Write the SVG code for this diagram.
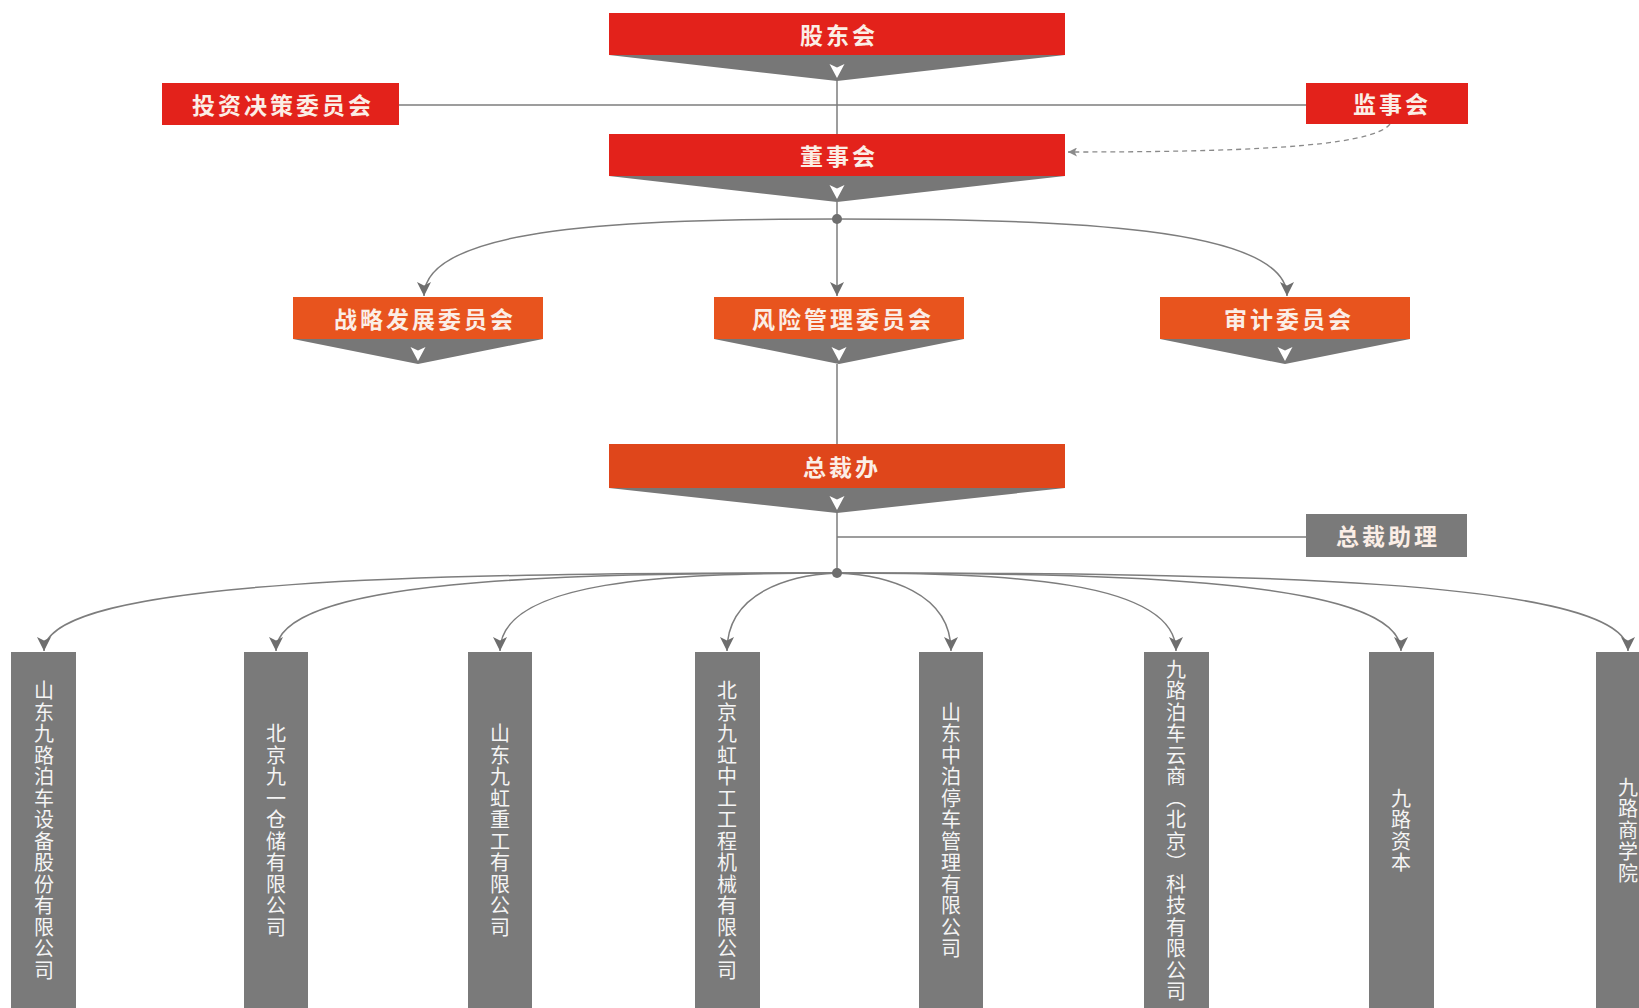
<svg xmlns="http://www.w3.org/2000/svg" width="1639" height="1008" viewBox="0 0 1639 1008">
<style>
.red{fill:#e3221b}
.org{fill:#e8541e}
.zc{fill:#df461b}
.gbox{fill:#7a7a7a}
.chev{fill:#777777}
.lbl{font-family:"Noto Sans CJK SC","Noto Sans",sans-serif;font-weight:bold;font-size:23px;fill:#fbeee6;text-anchor:middle;dominant-baseline:central;letter-spacing:3px}
.vt{font-family:"Noto Sans CJK SC","Noto Sans",sans-serif;font-size:20px;fill:#f4f4f4;writing-mode:vertical-rl;text-anchor:middle;letter-spacing:1.5px}
.ln{stroke:#7d7d7d;stroke-width:1.5;fill:none}
.dash{stroke:#8a8a8a;stroke-width:1.3;fill:none;stroke-dasharray:5 4}
</style>
<defs>
<marker id="ar" markerUnits="userSpaceOnUse" markerWidth="14" markerHeight="14" viewBox="0 0 12 12" refX="12" refY="6" orient="auto">
<path d="M0,0 L12,6 L0,12 L3,6 Z" fill="#6e6e6e"/>
</marker>
<marker id="ars" markerUnits="userSpaceOnUse" markerWidth="9" markerHeight="9" viewBox="0 0 12 12" refX="12" refY="6" orient="auto">
<path d="M0,0 L12,6 L0,12 L3,6 Z" fill="#8a8a8a"/>
</marker>
<path id="wa" d="M-7.5,-14 L0,-10.5 L7.5,-14 L0,0 Z" fill="#ffffff"/>
</defs>

<g id="connectors">
<line class="ln" x1="837" y1="80" x2="837" y2="134"/>
<line class="ln" x1="399" y1="105" x2="1306" y2="105"/>
<path class="dash" d="M1390,124 C1372,148 1230,152 1068,152" marker-end="url(#ars)"/>
<line class="ln" x1="837" y1="202" x2="837" y2="219"/>
<path class="ln" d="M837,219 C630,219 424,226 424,296" marker-end="url(#ar)"/>
<line class="ln" x1="837" y1="219" x2="837" y2="296" marker-end="url(#ar)"/>
<path class="ln" d="M837,219 C1062,219 1287,226 1287,296" marker-end="url(#ar)"/>
<line class="ln" x1="837" y1="364" x2="837" y2="444"/>
<line class="ln" x1="837" y1="512" x2="837" y2="573"/>
<line class="ln" x1="837" y1="537" x2="1306" y2="537"/>
<path class="ln" d="M837,573 C441,573 44,578 44,651" marker-end="url(#ar)"/>
<path class="ln" d="M837,573 C556,573 276,579 276,651" marker-end="url(#ar)"/>
<path class="ln" d="M837,573 C668,573 500,580 500,651" marker-end="url(#ar)"/>
<path class="ln" d="M837,573 C790,575 727,592 727,651" marker-end="url(#ar)"/>
<path class="ln" d="M837,573 C886,575 951,592 951,651" marker-end="url(#ar)"/>
<path class="ln" d="M837,573 C1006,573 1176,580 1176,651" marker-end="url(#ar)"/>
<path class="ln" d="M837,573 C1119,573 1401,579 1401,651" marker-end="url(#ar)"/>
<path class="ln" d="M837,573 C1232,573 1628,578 1628,651" marker-end="url(#ar)"/>
<circle cx="837" cy="219" r="5" fill="#6e6e6e"/>
<circle cx="837" cy="573" r="5" fill="#6e6e6e"/>
</g>

<g id="gudonghui">
<rect class="red" x="609" y="13" width="456" height="42"/>
<polygon class="chev" points="609,55 1065,55 837,81"/>
<use href="#wa" x="837" y="78"/>
<text class="lbl" x="839" y="34">股东会</text>
</g>

<g id="touzi">
<rect class="red" x="162" y="83" width="237" height="42"/>
<text class="lbl" x="283" y="104">投资决策委员会</text>
</g>

<g id="jianshi">
<rect class="red" x="1306" y="83" width="162" height="41"/>
<text class="lbl" x="1392" y="103">监事会</text>
</g>

<g id="dongshi">
<rect class="red" x="609" y="134" width="456" height="42"/>
<polygon class="chev" points="609,176 1065,176 837,202"/>
<use href="#wa" x="837" y="199"/>
<text class="lbl" x="839" y="155">董事会</text>
</g>

<g id="zhanlue">
<rect class="org" x="293" y="297" width="250" height="42"/>
<polygon class="chev" points="293,339 543,339 418,364"/>
<use href="#wa" x="418" y="361"/>
<text class="lbl" x="425" y="318">战略发展委员会</text>
</g>

<g id="fengxian">
<rect class="org" x="714" y="297" width="250" height="42"/>
<polygon class="chev" points="714,339 964,339 839,364"/>
<use href="#wa" x="839" y="361"/>
<text class="lbl" x="843" y="318">风险管理委员会</text>
</g>

<g id="shenji">
<rect class="org" x="1160" y="297" width="250" height="42"/>
<polygon class="chev" points="1160,339 1410,339 1285,364"/>
<use href="#wa" x="1285" y="361"/>
<text class="lbl" x="1289" y="318">审计委员会</text>
</g>

<g id="zongcaiban">
<rect class="zc" x="609" y="444" width="456" height="44"/>
<polygon class="chev" points="609,488 1065,488 837,513"/>
<use href="#wa" x="837" y="510"/>
<text class="lbl" x="842" y="466">总裁办</text>
</g>

<g id="zongcaizhuli">
<rect class="gbox" x="1306" y="514" width="161" height="43"/>
<text class="lbl" x="1388" y="535">总裁助理</text>
</g>

<g id="c1"><rect class="gbox" x="11" y="652" width="65" height="356"/><text class="vt" x="44" y="831">山东九路泊车设备股份有限公司</text></g>
<g id="c2"><rect class="gbox" x="244" y="652" width="64" height="356"/><text class="vt" x="276" y="831">北京九一仓储有限公司</text></g>
<g id="c3"><rect class="gbox" x="468" y="652" width="64" height="356"/><text class="vt" x="500" y="831">山东九虹重工有限公司</text></g>
<g id="c4"><rect class="gbox" x="695" y="652" width="65" height="356"/><text class="vt" x="727" y="831">北京九虹中工工程机械有限公司</text></g>
<g id="c5"><rect class="gbox" x="919" y="652" width="64" height="356"/><text class="vt" x="951" y="831">山东中泊停车管理有限公司</text></g>
<g id="c6"><rect class="gbox" x="1144" y="652" width="65" height="356"/><text class="vt" x="1176" y="831">九路泊车云商（北京）科技有限公司</text></g>
<g id="c7"><rect class="gbox" x="1369" y="652" width="65" height="356"/><text class="vt" x="1401" y="831">九路资本</text></g>
<g id="c8"><rect class="gbox" x="1596" y="652" width="65" height="356"/><text class="vt" x="1628" y="831">九路商学院</text></g>
</svg>
